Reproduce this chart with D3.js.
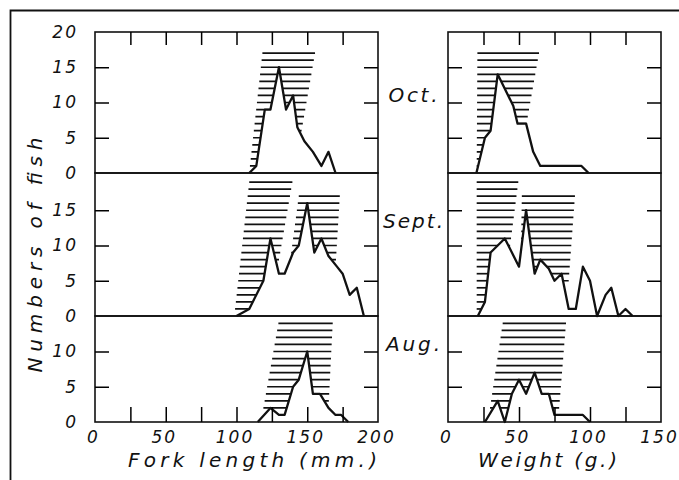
<!DOCTYPE html>
<html>
<head>
<meta charset="utf-8">
<script src="https://cdn.jsdelivr.net/npm/d3@7"></script>
<style>
    body { margin: 0; background: #fff; }
    text { font-family: "DejaVu Sans", sans-serif; font-style: italic; fill: #111; }
</style>
</head>
<body>
<svg id="chart"></svg>
<script>
// ---- data ----
const months = ["Oct.", "Sept.", "Aug."];
const lengthTicks = [0, 50, 100, 150, 200];
const weightTicks = [0, 50, 100, 150];
const countTicks = [[0, 5, 10, 15, 20], [0, 5, 10, 15], [0, 5, 10]];

// [fork length mm, number of fish]
const octLength = [[109, 0], [114, 1], [120, 9], [124, 9], [130, 15], [135, 9], [140, 11], [143, 6.5], [148, 4.5], [154, 3], [160, 1], [165, 3], [170, 0]];
const septLength = [[100, 0], [109, 1], [119, 5], [124, 11], [130, 6], [134, 6], [140, 9], [144, 10], [150, 16], [155, 9], [160, 11], [165, 8.5], [171, 7], [175, 6], [180, 3], [185, 4], [190, 0]];
const augLength = [[115, 0], [124, 2], [130, 1], [134, 1], [140, 5], [144, 6], [150, 10], [154, 4], [159, 4], [165, 2], [170, 1], [174, 1], [179, 0]];

// [weight g, number of fish]
const octWeight = [[20, 0], [26, 5], [30, 6], [35, 14], [46, 9.5], [49, 7], [55, 7], [60, 3], [65, 1], [94, 1], [99, 0]];
const septWeight = [[21, 0], [26, 2], [30, 9], [40, 11], [50, 7], [55, 15], [61, 6], [65, 8], [71, 6.7], [75, 5], [80, 6], [85, 1], [90, 1], [95, 7], [100, 5], [105, 0], [111, 3], [115, 4], [120, 0], [125, 1], [130, 0]];
const augWeight = [[26, 0], [35, 3], [40, 0], [45, 4], [50, 6], [55, 4], [61, 7], [66, 4], [71, 4], [75, 1], [95, 1], [100, 0]];

// hatched bands: [lowest line, highest line, left at low, left at high, right at low, right at high]
const octLengthHatch = [[1, 17, 109.5, 118.3, 141.7, 155.5]];
const septLengthHatch = [[1, 19, 99, 109, 124, 139.5], [8, 17, 138, 144, 170.3, 173]];
const augLengthHatch = [[2, 14, 119, 129.6, 165, 168]];
const octWeightHatch = [[1, 17, 20.2, 20.7, 50, 64.1]];
const septWeightHatch = [[1, 19, 20.2, 20.2, 38, 49.5], [5, 17, 51, 52, 85, 89.4]];
const augWeightHatch = [[2, 14, 29.6, 38.5, 78.3, 83.1]];

const lengthSeries = [octLength, septLength, augLength];
const weightSeries = [octWeight, septWeight, augWeight];
const lengthHatch = [octLengthHatch, septLengthHatch, augLengthHatch];
const weightHatch = [octWeightHatch, septWeightHatch, augWeightHatch];

// ---- layout ----
const width = 679, height = 480;
const ink = "#111";
const unit = 7.05; // px per fish
const rows = [{ top: 32, bottom: 173 }, { top: 173, bottom: 316 }, { top: 316, bottom: 422 }];

const xLength = d3.scaleLinear().domain([0, 200]).range([95, 378]);
const xWeight = d3.scaleLinear().domain([0, 150]).range([448, 661]);

const svg = d3.select("#chart")
    .attr("width", width)
    .attr("height", height);

// outer frame of the plate (top and left edges)
svg.append("path")
    .attr("d", `M10.5,${height} V10.5 H${width}`)
    .attr("fill", "none")
    .attr("stroke", ink)
    .attr("stroke-width", 1.8);

const columns = [
    { x: xLength, series: lengthSeries, hatch: lengthHatch, ticks: lengthTicks, step: 25, labels: true },
    { x: xWeight, series: weightSeries, hatch: weightHatch, ticks: weightTicks, step: 25, labels: false }
];

rows.forEach((row, i) => {
    const y = d3.scaleLinear().domain([0, 20]).range([row.bottom, row.bottom - 20 * unit]);

    columns.forEach(col => {
        const x = col.x;
        const g = svg.append("g");

        // horizontal hatching
        col.hatch[i].forEach(([lo, hi, l0, l1, r0, r1]) => {
            const levels = d3.range(lo, hi + 1);
            g.append("g").selectAll("line")
                .data(levels)
                .join("line")
                .attr("x1", n => x(l0 + (n - lo) / (hi - lo) * (l1 - l0)))
                .attr("x2", n => x(r0 + (n - lo) / (hi - lo) * (r1 - r0)))
                .attr("y1", n => y(n))
                .attr("y2", n => y(n))
                .attr("stroke", ink)
                .attr("stroke-width", 1.7);
        });

        // white under the frequency polygon hides the hatching there
        const area = d3.area()
            .x(d => x(d[0]))
            .y0(y(0))
            .y1(d => y(d[1]));
        g.append("path")
            .datum(col.series[i])
            .attr("d", area)
            .attr("fill", "#fff");

        const line = d3.line()
            .x(d => x(d[0]))
            .y(d => y(d[1]));
        g.append("path")
            .datum(col.series[i])
            .attr("d", line)
            .attr("fill", "none")
            .attr("stroke", ink)
            .attr("stroke-width", 2.3)
            .attr("stroke-linejoin", "round");

        // panel frame
        const [xa, xb] = x.range();
        g.append("rect")
            .attr("x", xa)
            .attr("y", row.top)
            .attr("width", xb - xa)
            .attr("height", row.bottom - row.top)
            .attr("fill", "none")
            .attr("stroke", ink)
            .attr("stroke-width", 1.6);

        // inner y ticks on both sides
        const inner = countTicks[i].filter(v => v > 0 && y(v) > row.top + 3);
        g.append("g")
            .attr("transform", `translate(${xa},0)`)
            .call(d3.axisLeft(y).tickValues(inner).tickSize(-14).tickFormat(""))
            .call(a => a.select(".domain").remove())
            .selectAll("line").attr("stroke-width", 1.5);
        g.append("g")
            .attr("transform", `translate(${xb},0)`)
            .call(d3.axisRight(y).tickValues(inner).tickSize(-14).tickFormat(""))
            .call(a => a.select(".domain").remove())
            .selectAll("line").attr("stroke-width", 1.5);

        // y tick labels, left column only
        if (col.labels) {
            g.append("g")
                .attr("transform", `translate(${xa},0)`)
                .call(d3.axisLeft(y).tickValues(countTicks[i]).tickSize(0).tickPadding(17))
                .call(a => a.select(".domain").remove())
                .attr("font-size", 17)
                .attr("font-family", null)
                .selectAll("text").attr("letter-spacing", 2);
        }

        const xInner = d3.range(col.step, x.domain()[1], col.step);
        if (i === 0) {
            g.append("g")
                .attr("transform", `translate(0,${row.top})`)
                .call(d3.axisTop(x).tickValues(xInner).tickSize(-13).tickFormat(""))
                .call(a => a.select(".domain").remove())
                .selectAll("line").attr("stroke-width", 1.5);
        }
        if (i === rows.length - 1) {
            g.append("g")
                .attr("transform", `translate(0,${row.bottom})`)
                .call(d3.axisBottom(x).tickValues(xInner).tickSize(-15).tickFormat(""))
                .call(a => a.select(".domain").remove())
                .selectAll("line").attr("stroke-width", 1.5);
            g.append("g")
                .attr("transform", `translate(0,${row.bottom})`)
                .call(d3.axisBottom(x).tickValues(col.ticks).tickSize(0).tickPadding(9))
                .call(a => a.select(".domain").remove())
                .attr("font-size", 17)
                .attr("font-family", null)
                .selectAll("text").attr("letter-spacing", 2).attr("dx", -2);
        }
    });
});

// month labels between the columns
const monthBaselines = [102, 228, 351];
const monthWidths = [49, 60, 54];
svg.append("g").selectAll("text")
    .data(months)
    .join("text")
    .attr("x", (d, i) => 413 - monthWidths[i] / 2)
    .attr("y", (d, i) => monthBaselines[i])
    .attr("font-size", 20)
    .attr("textLength", (d, i) => monthWidths[i])
    .attr("lengthAdjust", "spacing")
    .text(d => d);

// axis titles
svg.append("text")
    .attr("x", 128)
    .attr("y", 467)
    .attr("font-size", 20)
    .attr("textLength", 249)
    .attr("lengthAdjust", "spacing")
    .text("Fork length (mm.)");

svg.append("text")
    .attr("x", 478)
    .attr("y", 467)
    .attr("font-size", 20)
    .attr("textLength", 139)
    .attr("lengthAdjust", "spacing")
    .text("Weight (g.)");

svg.append("text")
    .attr("transform", "translate(42,255) rotate(-90)")
    .attr("text-anchor", "middle")
    .attr("font-size", 20)
    .attr("textLength", 235)
    .attr("lengthAdjust", "spacing")
    .text("Numbers of fish");
</script>
</body>
</html>
